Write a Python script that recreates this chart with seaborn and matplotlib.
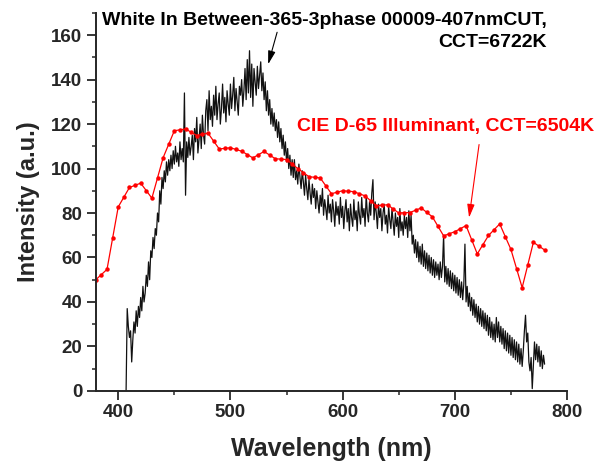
import numpy as np
import pandas as pd
import matplotlib
matplotlib.use("Agg")
import matplotlib.pyplot as plt
from matplotlib.ticker import MultipleLocator
import seaborn as sns

# CIE D-65 illuminant, 5 nm steps
d65_wl = list(range(380, 781, 5))
d65_val = [49.98, 52.31, 54.65, 68.70, 82.75, 87.12, 91.49, 92.46, 93.43, 90.06,
           86.68, 95.77, 104.87, 110.94, 117.01, 117.41, 117.81, 116.34, 114.86, 115.39,
           115.92, 112.37, 108.81, 109.08, 109.35, 108.58, 107.80, 106.30, 104.79, 106.24,
           107.69, 106.05, 104.41, 104.23, 104.05, 102.02, 100.00, 98.17, 96.33, 96.06,
           95.79, 92.24, 88.69, 89.35, 90.01, 89.80, 89.60, 88.65, 87.70, 85.49,
           83.29, 83.49, 83.70, 81.86, 80.03, 80.12, 80.21, 81.25, 82.28, 80.28,
           78.28, 74.00, 69.72, 70.67, 71.61, 72.98, 74.35, 67.98, 61.60, 65.74,
           69.89, 72.49, 75.09, 69.34, 63.59, 55.01, 46.42, 56.61, 66.81, 65.09,
           63.38]

# measured white spectrum, 1 nm steps from 407 nm
white_start = 407
white_val = [0, 37, 29, 24, 27, 13, 23, 31, 26, 36,
             29, 38, 33, 42, 36, 47, 40, 44, 52, 47,
             58, 50, 63, 60, 69, 64, 73, 70, 80, 76,
             90, 84, 96, 91, 99, 94, 103, 97, 104, 99,
             106, 100, 108, 102, 110, 103, 107, 101, 112, 104,
             109, 103, 134, 88, 112, 105, 114, 106, 110, 115,
             104, 118, 112, 123, 107, 113, 120, 109, 124, 115,
             111, 126, 131, 117, 135, 122, 128, 119, 133, 124,
             137, 122, 129, 134, 120, 127, 138, 125, 132, 121,
             135, 129, 124, 138, 127, 133, 141, 126, 136, 130,
             124, 137, 133, 140, 128, 135, 145, 131, 149, 134,
             153, 132, 147, 128, 145, 139, 133, 146, 136, 142,
             148, 135, 143, 131, 139, 126, 135, 124, 131, 120,
             127, 119, 125, 117, 122, 114, 121, 112, 118, 109,
             115, 106, 112, 103, 109, 100, 106, 97, 104, 96,
             104, 95, 99, 93, 102, 96, 91, 99, 94, 88,
             97, 91, 86, 95, 89, 84, 93, 87, 91, 82,
             90, 85, 80, 88, 83, 91, 79, 86, 82, 77,
             88, 80, 84, 76, 86, 81, 74, 85, 79, 83,
             75, 87, 78, 83, 73, 81, 86, 76, 82, 72,
             84, 78, 74, 86, 77, 81, 72, 85, 79, 75,
             87, 78, 82, 74, 88, 80, 76, 85, 79, 89,
             95, 77, 85, 80, 73, 84, 78, 82, 72, 80,
             84, 75, 79, 71, 83, 77, 73, 82, 76, 70,
             80, 74, 78, 69, 82, 72, 76, 70, 79, 73,
             78, 69, 81, 72, 79, 66, 70, 62, 68, 60,
             67, 58, 65, 57, 66, 56, 63, 55, 62, 54,
             61, 53, 60, 52, 59, 51, 58, 52, 57, 50,
             58, 51, 56, 70, 49, 56, 48, 55, 47, 54,
             46, 53, 45, 52, 44, 51, 43, 50, 42, 49,
             41, 48, 66, 40, 47, 38, 44, 36, 42, 34,
             41, 33, 39, 31, 38, 30, 37, 29, 36, 28,
             35, 27, 34, 25, 33, 24, 31, 23, 30, 22,
             33, 24, 31, 22, 29, 21, 28, 19, 27, 18,
             26, 17, 25, 16, 24, 15, 23, 14, 22, 13,
             21, 12, 19, 11, 18, 27, 34, 22, 26, 13,
             9, 15, 1, 12, 22, 14, 21, 13, 20, 11,
             18, 10, 16, 12]
white_wl = np.arange(white_start, white_start + len(white_val))

white_label = "White In Between-365-3phase 00009-407nmCUT,\nCCT=6722K"
d65_label = "CIE D-65 Illuminant, CCT=6504K"

sns.set_style("ticks")
plt.rcParams['font.family'] = ['Liberation Sans', 'DejaVu Sans']
plt.rcParams['font.weight'] = 'bold'

fig = plt.figure(figsize=(5.95, 4.62), dpi=100)
ax = fig.add_axes([0.161, 0.154, 0.792, 0.818])

df_white = pd.DataFrame({'wl': white_wl, 'val': white_val})
df_d65 = pd.DataFrame({'wl': d65_wl, 'val': d65_val})

sns.lineplot(data=df_white, x='wl', y='val', ax=ax, color='#111111', lw=0.9)
sns.lineplot(data=df_d65, x='wl', y='val', ax=ax, color='red', lw=0.9,
             marker='o', markersize=3.2, markeredgewidth=0)
# dotted zero baseline
ax.hlines(0, d65_wl[0], d65_wl[-1], colors='black', linestyles=(0, (1.5, 1.5)), lw=1)

ax.set_xlim(380, 800)
ax.set_ylim(0, 170)
ax.xaxis.set_major_locator(MultipleLocator(100))
ax.xaxis.set_minor_locator(MultipleLocator(50))
ax.yaxis.set_major_locator(MultipleLocator(20))
ax.yaxis.set_minor_locator(MultipleLocator(10))
ax.tick_params(which='major', direction='out', length=6.3, width=1.3, labelsize=13.5, pad=3.5)
ax.tick_params(which='minor', direction='out', length=3.2, width=1.1)
for lab in ax.get_xticklabels() + ax.get_yticklabels():
    lab.set_fontweight('bold')
for s in ['left', 'bottom']:
    ax.spines[s].set_linewidth(1.4)
sns.despine(ax=ax)

ax.set_xlabel("Wavelength (nm)", fontsize=18, fontweight='bold', labelpad=11.5)
ax.set_ylabel("Intensity (a.u.)", fontsize=17, fontweight='bold', labelpad=8)

# annotation texts
ax.text(782, 161.8, white_label, ha='right', va='center', multialignment='right',
        fontsize=14, fontweight='bold', color='black', linespacing=1.4)
ax.text(691.3, 118.9, d65_label, ha='center', va='center', fontsize=14,
        fontweight='bold', color='red', clip_on=False)
# arrows
ax.annotate('', xy=(533.6, 146.9), xytext=(541.6, 161.3),
            arrowprops=dict(arrowstyle='-|>,head_length=0.8,head_width=0.22',
                            color='black', lw=0.8, shrinkA=0, shrinkB=0))
ax.annotate('', xy=(712.7, 77.9), xytext=(721.6, 110.8),
            arrowprops=dict(arrowstyle='-|>,head_length=0.8,head_width=0.22',
                            color='red', lw=0.8, shrinkA=0, shrinkB=0))

plt.savefig('out.png', dpi=100)
